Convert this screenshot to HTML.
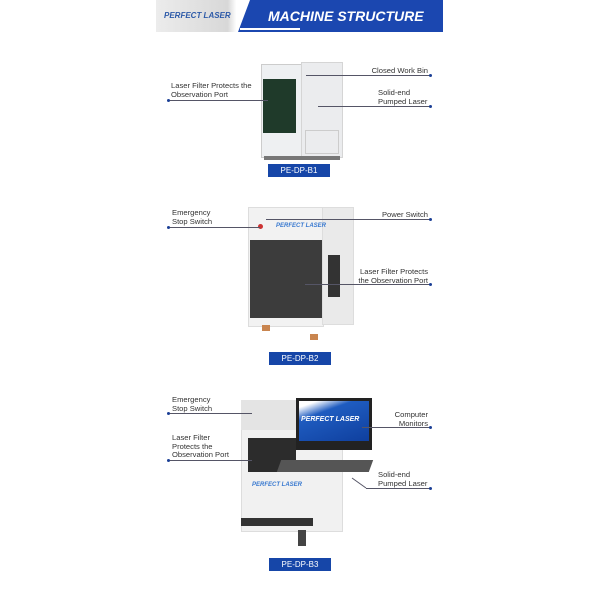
<!DOCTYPE html>
<html><head><style>
body{margin:0;width:600px;height:600px;background:#fff;position:relative;overflow:hidden;font-family:"Liberation Sans",sans-serif}
.a{position:absolute}
.t{position:absolute;font-size:7.6px;color:#333;line-height:8.6px;white-space:nowrap}
.r{text-align:right}
.ln{position:absolute;height:1px;background:#556}
.dot{position:absolute;width:3px;height:3px;border-radius:50%;background:#1b3f95}
.lab{position:absolute;background:#1646a8;color:#fff;font-size:8px;text-align:center;line-height:13px;width:62px;height:13px}
</style></head><body>
<!-- header -->
<div class="a" style="left:156px;top:0;width:287px;height:32px;background:linear-gradient(90deg,#ececec,#d8d8d8 25%,#fff 28%)"></div>
<div class="a" style="left:238px;top:0;width:205px;height:32px;background:#1b47b0;clip-path:polygon(12px 0,100% 0,100% 100%,0 100%)"></div>
<div class="a" style="left:240px;top:28px;width:60px;height:2px;background:#fff"></div>
<div class="a" style="left:164px;top:11px;font-size:8px;font-weight:bold;font-style:italic;color:#2d5aa8">PERFECT LASER</div>
<div class="a" style="left:268px;top:8px;font-size:14px;font-weight:bold;font-style:italic;color:#fff">MACHINE STRUCTURE</div>

<!-- B1 -->
<div class="a" style="left:261px;top:64px;width:40px;height:92px;background:#eef0f2;border:1px solid #ccc"></div>
<div class="a" style="left:263px;top:79px;width:33px;height:54px;background:#1f3a2a"></div>
<div class="a" style="left:301px;top:62px;width:40px;height:94px;background:#ebecee;border:1px solid #d5d5d5"></div>
<div class="a" style="left:305px;top:130px;width:32px;height:22px;border:1px solid #ccc"></div>
<div class="a" style="left:264px;top:156px;width:76px;height:4px;background:#777"></div>
<div class="lab" style="left:268px;top:164px">PE-DP-B1</div>
<div class="t" style="left:171px;top:82px">Laser Filter Protects the<br>Observation Port</div>
<div class="ln" style="left:168px;top:100px;width:100px"></div><div class="dot" style="left:167px;top:99px"></div>
<div class="t r" style="left:350px;top:67px;width:78px">Closed Work Bin</div>
<div class="ln" style="left:306px;top:75px;width:124px"></div><div class="dot" style="left:429px;top:74px"></div>
<div class="t" style="left:378px;top:89px">Solid-end<br>Pumped Laser</div>
<div class="ln" style="left:318px;top:106px;width:112px"></div><div class="dot" style="left:429px;top:105px"></div>

<!-- B2 -->
<div class="a" style="left:248px;top:207px;width:74px;height:118px;background:#f2f2f2;border:1px solid #ddd"></div>
<div class="a" style="left:322px;top:207px;width:30px;height:116px;background:#eaeaea;border:1px solid #ddd"></div>
<div class="a" style="left:250px;top:240px;width:72px;height:78px;background:#3c3c3c"></div>
<div class="a" style="left:328px;top:255px;width:12px;height:42px;background:#333"></div>
<div class="a" style="left:258px;top:224px;width:5px;height:5px;border-radius:50%;background:#c33"></div>
<div class="a" style="left:276px;top:223px;font-size:6px;font-weight:bold;font-style:italic;color:#3a7ad0">PERFECT LASER</div>
<div class="a" style="left:262px;top:325px;width:8px;height:6px;background:#c9854f"></div>
<div class="a" style="left:310px;top:334px;width:8px;height:6px;background:#c9854f"></div>
<div class="lab" style="left:269px;top:352px">PE-DP-B2</div>
<div class="t" style="left:172px;top:209px">Emergency<br>Stop Switch</div>
<div class="ln" style="left:168px;top:227px;width:92px"></div><div class="dot" style="left:167px;top:226px"></div>
<div class="t r" style="left:350px;top:211px;width:78px">Power Switch</div>
<div class="ln" style="left:266px;top:219px;width:164px"></div><div class="dot" style="left:429px;top:218px"></div>
<div class="t r" style="left:340px;top:268px;width:88px">Laser Filter Protects<br>the Observation Port</div>
<div class="ln" style="left:305px;top:284px;width:125px"></div><div class="dot" style="left:429px;top:283px"></div>

<!-- B3 -->
<div class="a" style="left:241px;top:400px;width:100px;height:130px;background:#f1f1f1;border:1px solid #ddd"></div>
<div class="a" style="left:241px;top:400px;width:60px;height:30px;background:#e4e4e4"></div>
<div class="a" style="left:248px;top:438px;width:48px;height:34px;background:#2c2c2c"></div>
<div class="a" style="left:252px;top:482px;font-size:6px;font-weight:bold;font-style:italic;color:#3a7ad0">PERFECT LASER</div>
<div class="a" style="left:241px;top:518px;width:72px;height:8px;background:#333"></div>
<div class="a" style="left:298px;top:530px;width:8px;height:16px;background:#444"></div>
<div class="a" style="left:296px;top:398px;width:76px;height:52px;background:#222"></div>
<div class="a" style="left:299px;top:401px;width:70px;height:40px;background:linear-gradient(160deg,#fff 10%,#1f5cc0 30%,#0f3f9e)"></div>
<div class="a" style="left:301px;top:416px;font-size:7px;font-weight:bold;font-style:italic;color:#fff">PERFECT LASER</div>
<div class="a" style="left:279px;top:460px;width:92px;height:12px;background:#555;transform:skewX(-20deg)"></div>
<div class="lab" style="left:269px;top:558px">PE-DP-B3</div>
<div class="t" style="left:172px;top:396px">Emergency<br>Stop Switch</div>
<div class="ln" style="left:168px;top:413px;width:84px"></div><div class="dot" style="left:167px;top:412px"></div>
<div class="t" style="left:172px;top:434px">Laser Filter<br>Protects the<br>Observation Port</div>
<div class="ln" style="left:168px;top:460px;width:84px"></div><div class="dot" style="left:167px;top:459px"></div>
<div class="t r" style="left:350px;top:411px;width:78px">Computer<br>Monitors</div>
<div class="ln" style="left:362px;top:427px;width:68px"></div><div class="dot" style="left:429px;top:426px"></div>
<div class="t" style="left:378px;top:471px">Solid-end<br>Pumped Laser</div>
<div class="ln" style="left:366px;top:488px;width:64px"></div><div class="dot" style="left:429px;top:487px"></div>
<svg class="a" style="left:0;top:0" width="600" height="600"><line x1="366" y1="488" x2="352" y2="478" stroke="#556" stroke-width="1"/></svg>
</body></html>
